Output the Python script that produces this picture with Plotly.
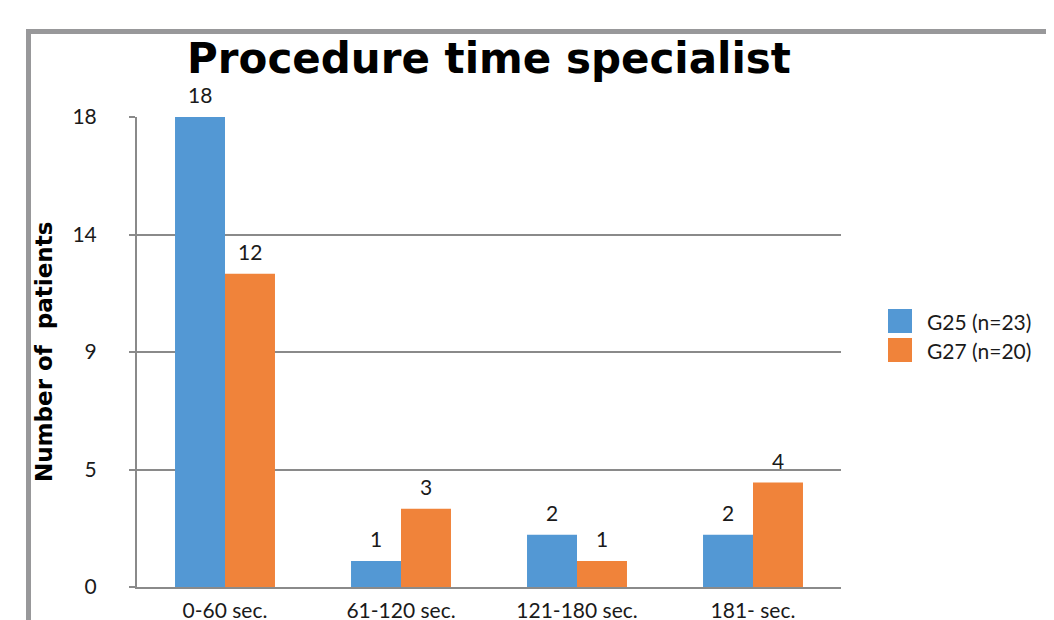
import plotly.graph_objects as go

categories = ["0-60 sec.", "61-120 sec.", "121-180 sec.", "181- sec."]
series_names = ["G25 (n=23)", "G27 (n=20)"]
g25_values = [18, 1, 2, 2]
g27_values = [12, 3, 1, 4]
tick_values = [0, 4.5, 9, 13.5, 18]
tick_labels = ["0", "5", "9", "14", "18"]
colors = ["#5398D4", "#F0833A"]

OFF = 8  # default page body margin
W, H = 1054 - OFF, 620 - OFF
# plot area in page pixels
PX0, PX1, PY0, PY1 = 137, 841, 117, 587
L, T = PX0 - OFF, PY0 - OFF
R = W - (PX1 - OFF)
B = H - (PY1 - OFF)
pw, ph = PX1 - PX0, PY1 - PY0

def px(x):
    return (x - PX0) / pw

def py(y):
    return (PY1 - y) / ph

fig = go.Figure()
series = [g25_values, g27_values]
for name, vals, col in zip(series_names, series, colors):
    fig.add_trace(go.Bar(x=categories, y=vals, name=name, marker_color=col,
                         marker_line_width=0, showlegend=False, cliponaxis=False))

label_font = dict(family="Lato", size=21, color="#1a1a1a")
annotations = []
for si, vals in enumerate(series):
    shift = -25 if si == 0 else 25
    for c, v in zip(categories, vals):
        annotations.append(dict(x=c, y=v, xref="x", yref="y", text=str(v),
                                showarrow=False, xshift=shift, yshift=8,
                                yanchor="bottom", font=label_font))

# y axis title
annotations.append(dict(x=px(44), y=py(352), xref="paper", yref="paper",
                        text="<b>Number of  patients</b>", textangle=-90, showarrow=False,
                        font=dict(family="DejaVu Sans", size=23, color="#000000"),
                        xanchor="center", yanchor="middle"))

shapes = []
# outer frame
shapes.append(dict(type="rect", xref="paper", yref="paper",
                   x0=px(28.5), x1=px(1200), y0=py(800), y1=py(31.5),
                   line=dict(color="#98989A", width=5), fillcolor="rgba(0,0,0,0)",
                   layer="below"))
# legend
leg_y = [(309, 333), (338, 362)]
for (y0, y1), col, name in zip(leg_y, colors, series_names):
    shapes.append(dict(type="rect", xref="paper", yref="paper",
                       x0=px(888), x1=px(912), y0=py(y1), y1=py(y0),
                       fillcolor=col, line_width=0))
    annotations.append(dict(x=px(925), y=py((y0 + y1) / 2), xref="paper", yref="paper",
                            text=name, showarrow=False, xanchor="left", yanchor="middle",
                            font=label_font))

fig.update_layout(
    width=W, height=H,
    margin=dict(l=L, r=R, t=T, b=B, pad=0, autoexpand=False),
    paper_bgcolor="white", plot_bgcolor="white",
    barmode="group", bargap=0.432, bargroupgap=0,
    title=dict(text="<b>Procedure time specialist</b>", x=px(489), xanchor="center",
               xref="paper", yref="container", y=1 - (58 - OFF) / H, yanchor="middle",
               font=dict(family="DejaVu Sans", size=42, color="#000000")),
    xaxis=dict(showgrid=False, showline=True, linecolor="#8A8A8A", linewidth=2,
               ticks="", tickfont=label_font, ticklabelstandoff=4,
               zeroline=False, automargin=False),
    yaxis=dict(range=[0, 18], tickvals=tick_values, ticktext=tick_labels,
               showgrid=True, gridcolor="#8A8A8A", gridwidth=2,
               showline=True, linecolor="#8A8A8A", linewidth=2,
               ticks="outside", ticklen=6, tickcolor="#8A8A8A", tickwidth=2,
               tickfont=label_font, ticklabelstandoff=28, zeroline=False,
               automargin=False),
    annotations=annotations, shapes=shapes,
)

fig.write_html("out.html")
